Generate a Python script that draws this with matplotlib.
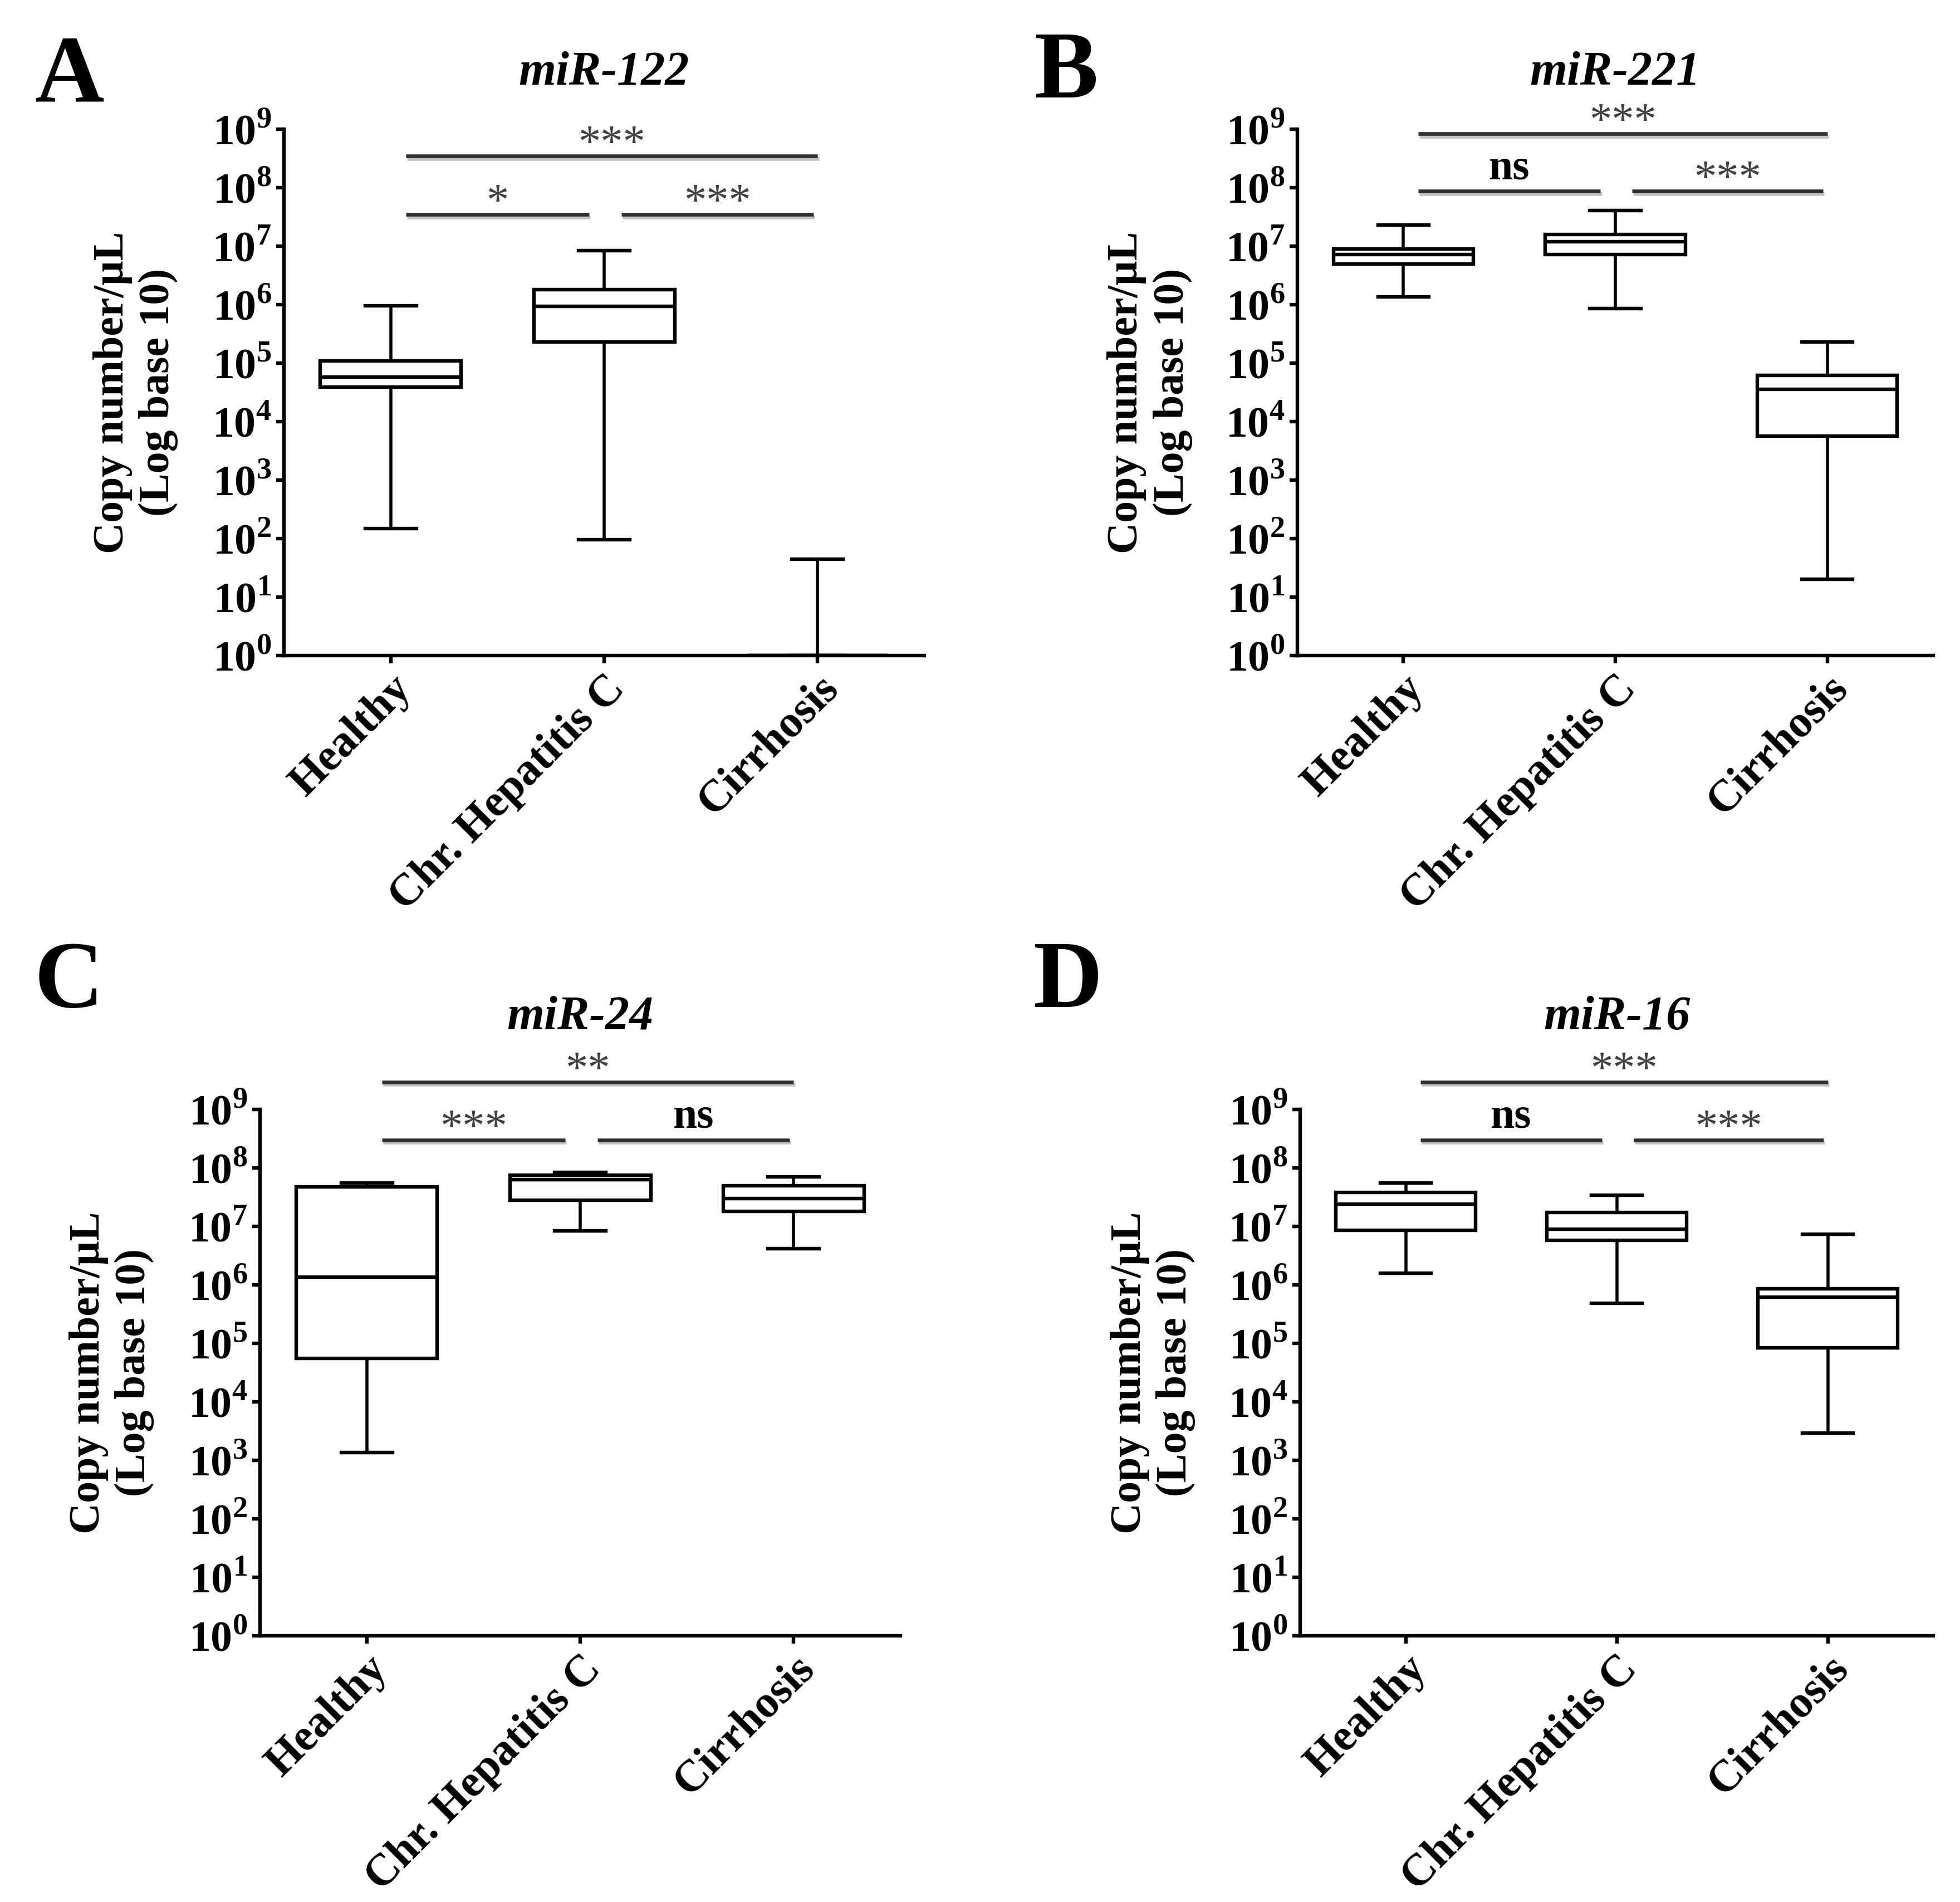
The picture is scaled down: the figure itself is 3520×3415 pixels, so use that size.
import numpy as np
import matplotlib
matplotlib.use('Agg')
import matplotlib.pyplot as plt
import matplotlib.patheffects as pe
from matplotlib.ticker import NullLocator

plt.rcParams['font.family'] = ['Liberation Serif', 'DejaVu Serif']
plt.rcParams['mathtext.fontset'] = 'custom'
plt.rcParams['mathtext.rm'] = 'Liberation Serif:bold'
plt.rcParams['mathtext.bf'] = 'Liberation Serif:bold'

groups = ["Healthy", "Chr. Hepatitis C", "Cirrhosis"]
titles = ["miR-122", "miR-221", "miR-24", "miR-16"]
letters = ["A", "B", "C", "D"]

# box stats in copies/uL: whisker low, Q1, median, Q3, whisker high
mir122_lo = [150, 96, 1]
mir122_q1 = [3.9e4, 2.3e5, 1]
mir122_med = [5.8e4, 9.4e5, 1]
mir122_q3 = [1.1e5, 1.8e6, 1]
mir122_hi = [9.5e5, 8.3e6, 44]

mir221_lo = [1.35e6, 8.5e5, 20]
mir221_q1 = [5.0e6, 7.2e6, 5.6e3]
mir221_med = [7.2e6, 1.18e7, 3.6e4]
mir221_q3 = [9.0e6, 1.6e7, 6.2e4]
mir221_hi = [2.3e7, 4.1e7, 2.3e5]

mir24_lo = [1.35e3, 8.3e6, 4.2e6]
mir24_q1 = [5.5e4, 2.8e7, 1.8e7]
mir24_med = [1.35e6, 6.3e7, 3.0e7]
mir24_q3 = [4.7e7, 7.5e7, 5.0e7]
mir24_hi = [5.5e7, 8.4e7, 7.0e7]

mir16_lo = [1.6e6, 4.9e5, 2.9e3]
mir16_q1 = [8.5e6, 5.8e6, 8.3e4]
mir16_med = [2.4e7, 8.9e6, 6.2e5]
mir16_q3 = [3.8e7, 1.74e7, 8.5e5]
mir16_hi = [5.5e7, 3.4e7, 7.4e6]

# significance: pairs (overall, left, right), labels, bar heights (log10)
sig_pairs = [(0, 2), (0, 1), (1, 2)]
sig122_labels = ['***', '*', '***']
sig221_labels = ['***', 'ns', '***']
sig24_labels = ['**', '***', 'ns']
sig16_labels = ['***', 'ns', '***']
sig122_y = [8.54, 7.54]
sig221_y = [8.92, 7.94]
sig24_y = [9.47, 8.48]
sig16_y = [9.47, 8.48]

panels = [
    (mir122_lo, mir122_q1, mir122_med, mir122_q3, mir122_hi, sig122_labels, sig122_y),
    (mir221_lo, mir221_q1, mir221_med, mir221_q3, mir221_hi, sig221_labels, sig221_y),
    (mir24_lo, mir24_q1, mir24_med, mir24_q3, mir24_hi, sig24_labels, sig24_y),
    (mir16_lo, mir16_q1, mir16_med, mir16_q3, mir16_hi, sig16_labels, sig16_y),
]

W, H = 3520, 3415
fig = plt.figure(figsize=(W / 200, H / 200), dpi=200)

# axes rectangles in pixels: left, right, top, bottom
rects = [(510, 1660, 232, 1177), (2330, 3472, 232, 1177),
         (467, 1617, 1992, 2937), (2335, 3472, 1992, 2937)]
title_pads = [29, 29, 52, 52]
letter_pos = [(125, 142), (1915, 134), (124, 1767), (1918, 1767)]
# bar spans relative to pair ends
bar_span = [(0.07, 0.0), (0.07, -0.07), (0.08, -0.02)]

lw = 2.3
for k, (lo, q1, med, q3, hi, labs, ys) in enumerate(panels):
    l, r, t, b = rects[k]
    ax = fig.add_axes([l / W, 1 - b / H, (r - l) / W, (b - t) / H])
    stats = [dict(whislo=lo[i], q1=q1[i], med=med[i], q3=q3[i], whishi=hi[i], fliers=[])
             for i in range(len(groups))]
    ax.bxp(stats, positions=range(len(groups)), widths=0.66, capwidths=0.24,
           showfliers=False, patch_artist=True,
           boxprops=dict(facecolor='white', edgecolor='black', linewidth=lw),
           medianprops=dict(color='black', linewidth=lw),
           whiskerprops=dict(color='black', linewidth=2.0),
           capprops=dict(color='black', linewidth=lw))
    ax.set_yscale('log')
    ax.set_ylim(1, 1e9)
    ax.set_xlim(-0.5, 2.5)
    ax.set_yticks([10.0 ** p for p in range(10)])
    ax.set_yticklabels([r'$10^{%d}$' % p for p in range(10)], fontsize=28)
    ax.yaxis.set_minor_locator(NullLocator())
    ax.set_xticks(range(len(groups)))
    ax.set_xticklabels(groups, rotation=45, ha='right', va='top', rotation_mode='anchor',
                       fontsize=29, fontweight='bold')
    ax.tick_params(axis='both', direction='out', length=5, width=lw, pad=3)
    for s in ['top', 'right']:
        ax.spines[s].set_visible(False)
    for s in ['left', 'bottom']:
        ax.spines[s].set_linewidth(lw)
    ax.set_ylabel('Copy number/µL\n(Log base 10)', fontsize=28, fontweight='bold', linespacing=1.2)
    ax.yaxis.set_label_coords(-0.165, 0.5)
    ax.set_title(titles[k], fontsize=31, fontweight='bold', fontstyle='italic', pad=title_pads[k])
    fig.text(letter_pos[k][0] / W, 1 - letter_pos[k][1] / H, letters[k], fontsize=62,
             fontweight='bold', ha='center', va='center')

    for j, (x1, x2) in enumerate(sig_pairs):
        y = 10 ** (ys[0] if j == 0 else ys[1])
        xa, xb = x1 + bar_span[j][0], x2 + bar_span[j][1]
        ax.plot([xa, xb], [y, y], color='#303030', lw=2.4, clip_on=False, solid_capstyle='butt',
                path_effects=[pe.SimpleLineShadow(offset=(0.8, -1.6), shadow_color='#888888', alpha=0.5),
                              pe.Normal()])
        if labs[j] == 'ns':
            ax.annotate('ns', ((xa + xb) / 2, y), xytext=(0, 8), textcoords='offset points',
                        ha='center', va='baseline', fontsize=28, fontweight='bold',
                        color='black', annotation_clip=False)
        else:
            ax.annotate(labs[j], ((xa + xb) / 2, y), xytext=(0, 0), textcoords='offset points',
                        ha='center', va='baseline', fontsize=29, color='#404040',
                        annotation_clip=False)

fig.savefig('out.png', dpi=200, facecolor='white')
